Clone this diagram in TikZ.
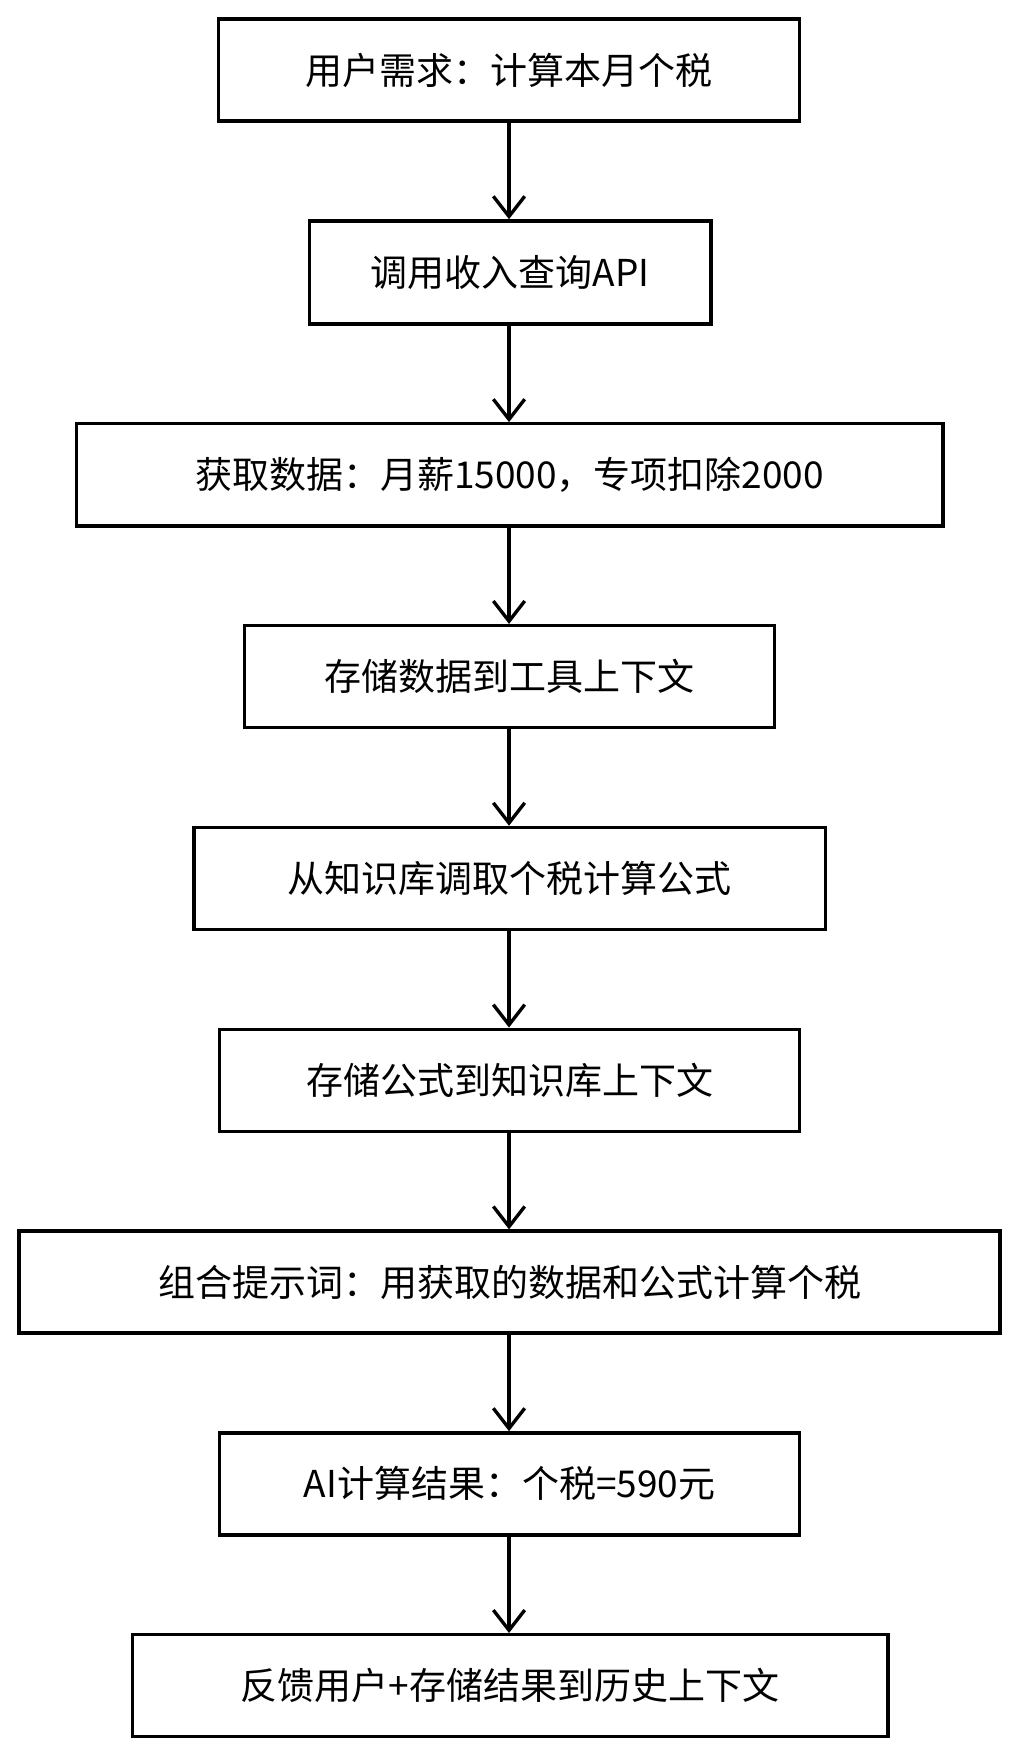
\documentclass[tikz,border=0pt]{standalone}
\usepackage{fontspec}
\setmainfont{Noto Sans CJK SC}
\usetikzlibrary{arrows.meta}
\begin{document}
\begin{tikzpicture}[x=1pt,y=-1pt,
  box/.style={draw=black,line width=3pt,inner sep=0pt,font=\fontsize{33}{38}\selectfont},
  arr/.style={line width=3pt,-{Straight Barb[length=18pt,width=28pt,line width=3pt]}}]
\useasboundingbox (0,0) rectangle (910,1568);
\def\B#1#2#3#4#5#6{\node[box,minimum width=#3-#2 pt,minimum height=#5-#4 pt] (#1) at ({(#2+#3)/2},{(#4+#5)/2}) {#6};}
\B{n1}{195}{713}{17}{108}{用户需求：计算本月个税}
\B{n2}{276}{634}{197}{289}{调用收入查询\textit{API}}
\B{n3}{68}{841}{378}{469}{获取数据：月薪15000，专项扣除2000}
\B{n4}{218}{691}{558}{649}{存储数据到工具上下文}
\B{n5}{173}{736}{738}{829}{从知识库调取个税计算公式}
\B{n6}{196}{713}{918}{1009}{存储公式到知识库上下文}
\B{n7}{17}{892}{1098}{1189}{组合提示词：用获取的数据和公式计算个税}
\B{n8}{196}{713}{1278}{1369}{\textit{AI}计算结果：个税=590元}
\B{n9}{118}{792}{1458}{1549}{反馈用户+存储结果到历史上下文}
\foreach \a/\b in {n1/n2,n2/n3,n3/n4,n4/n5,n5/n6,n6/n7,n7/n8,n8/n9}
  \draw[arr] (\a.south -| 454,0) -- (\b.north -| 454,0);
\end{tikzpicture}
\end{document}
